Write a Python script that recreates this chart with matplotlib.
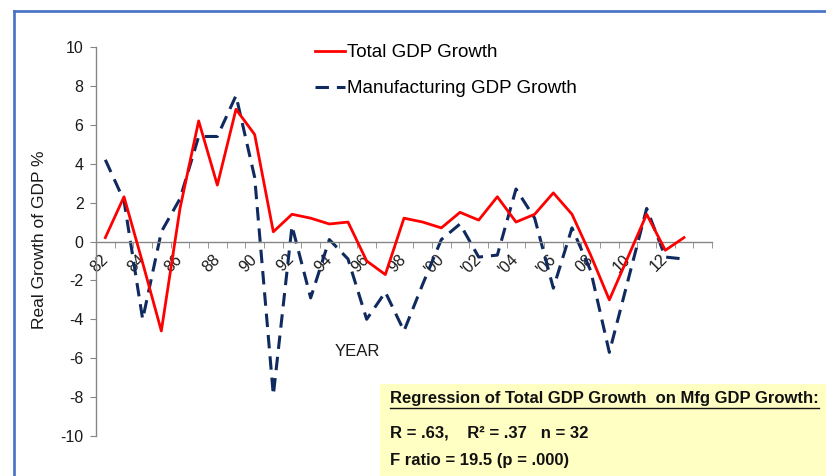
import matplotlib
matplotlib.use('Agg')
import matplotlib.pyplot as plt
import numpy as np
from matplotlib.lines import Line2D
from matplotlib.patches import Rectangle

years = list(range(1982, 2014))
total_gdp_growth = [0.2, 2.3, -1.1, -4.6, 1.7, 6.2, 2.9, 6.8, 5.5, 0.5,
                    1.4, 1.2, 0.9, 1.0, -1.0, -1.7, 1.2, 1.0, 0.7, 1.5,
                    1.1, 2.3, 1.0, 1.4, 2.5, 1.4, -0.7, -3.0, -0.8, 1.4,
                    -0.45, 0.2]
mfg_gdp_growth = [4.2, 2.1, -4.0, 0.5, 2.2, 5.4, 5.4, 7.5, 3.3, -7.9,
                  0.8, -2.9, 0.1, -0.9, -4.0, -2.6, -4.6, -2.2, 0.1, 0.9,
                  -0.8, -0.7, 2.7, 1.2, -2.4, 0.7, -1.5, -5.7, -2.0, 1.7,
                  -0.8, -0.9]
n_categories = 33  # axis runs one empty slot past 2013
year_labels = ['82', '84', '86', '88', '90', '92', '94', '96', '98',
               "'00", "'02", "'04", "'06", '08', '10', '12']
y_ticks = [-10, -8, -6, -4, -2, 0, 2, 4, 6, 8, 10]

W, H = 826, 476
plt.rcParams['font.family'] = ['Liberation Sans', 'DejaVu Sans']

RED = '#FF0000'
NAVY = '#0F2A5E'
GREY = '#868686'
FRAME = '#4472C4'


def fx(px):
    return px / W


def fy(py):
    return 1 - py / H


def make_plot():
    fig = plt.figure(figsize=(W / 100, H / 100), dpi=100)

    # yellow stats box and the blue slide frame
    fig.patches.append(Rectangle((fx(380), 0), 1 - fx(380), fy(384), transform=fig.transFigure,
                                 facecolor='#FFFFC4', edgecolor='none', zorder=0))
    fig.add_artist(Line2D([fx(14), 1], [fy(11), fy(11)], color=FRAME, lw=1.9))
    fig.add_artist(Line2D([fx(14), fx(14)], [fy(11), 0], color=FRAME, lw=1.9))

    ax = fig.add_axes([fx(96), fy(436), fx(712) - fx(96), fy(47) - fy(436)])
    ax.patch.set_alpha(0)
    x = np.arange(len(years))

    ax.plot(x, total_gdp_growth, color=RED, lw=2.0, label='Total GDP Growth', zorder=3)
    ax.plot(x, mfg_gdp_growth, color=NAVY, lw=2.2, dashes=(4.4, 2.6),
            label='Manufacturing GDP Growth', zorder=2)

    ax.set_xlim(-0.5, n_categories - 0.5)
    ax.set_ylim(-10, 10)

    ax.spines['right'].set_visible(False)
    ax.spines['top'].set_visible(False)
    ax.spines['bottom'].set_position(('data', 0))
    for s in ['left', 'bottom']:
        ax.spines[s].set_color(GREY)
        ax.spines[s].set_linewidth(1.0)

    ax.set_yticks(y_ticks)
    ax.set_yticklabels([str(v) for v in y_ticks])
    ax.tick_params(axis='y', direction='out', length=4, color=GREY, labelsize=11.5,
                   labelcolor='#1a1a1a', pad=5)

    ax.set_xticks(np.arange(0, len(years), 2))
    ax.set_xticks(np.arange(n_categories + 1) - 0.5, minor=True)
    ax.set_xticklabels(year_labels, rotation=45, ha='right', va='center', rotation_mode='anchor')
    ax.tick_params(axis='x', which='major', length=0, labelsize=11.5, labelcolor='#1a1a1a', pad=11)
    ax.tick_params(axis='x', which='minor', direction='out', length=4, color=GREY)

    fig.text(fx(40), fy(240), 'Real Growth of GDP %', rotation=90, ha='center', va='center',
             fontsize=12.5, color='#1a1a1a')
    fig.text(fx(357), fy(352), 'YEAR', ha='center', va='center', fontsize=12, color='#1a1a1a')

    fig.legend(loc='upper left', bbox_to_anchor=(fx(315), fy(44)), frameon=False,
               fontsize=13.5, handlelength=1.6, handletextpad=0.1, labelspacing=1.02,
               borderpad=0, borderaxespad=0)

    stats = ['Regression of Total GDP Growth  on Mfg GDP Growth:',
             'R = .63,    R\u00b2 = .37   n = 32',
             'F ratio = 19.5 (p = .000)']
    baselines = [403, 437, 465]
    texts = []
    for line, b in zip(stats, baselines):
        texts.append(fig.text(fx(390), fy(b), line, ha='left', va='baseline', fontsize=12,
                              fontweight='bold', color='#111111'))

    # underline the heading of the stats box
    fig.canvas.draw()
    bb = texts[0].get_window_extent()
    fig.add_artist(Line2D([fx(bb.x0), fx(bb.x1)], [fy(407.5), fy(407.5)], color='#111111', lw=1.0))

    plt.savefig('out.png', dpi=100)
    plt.close()


def main():
    make_plot()


if __name__ == '__main__':
    main()
